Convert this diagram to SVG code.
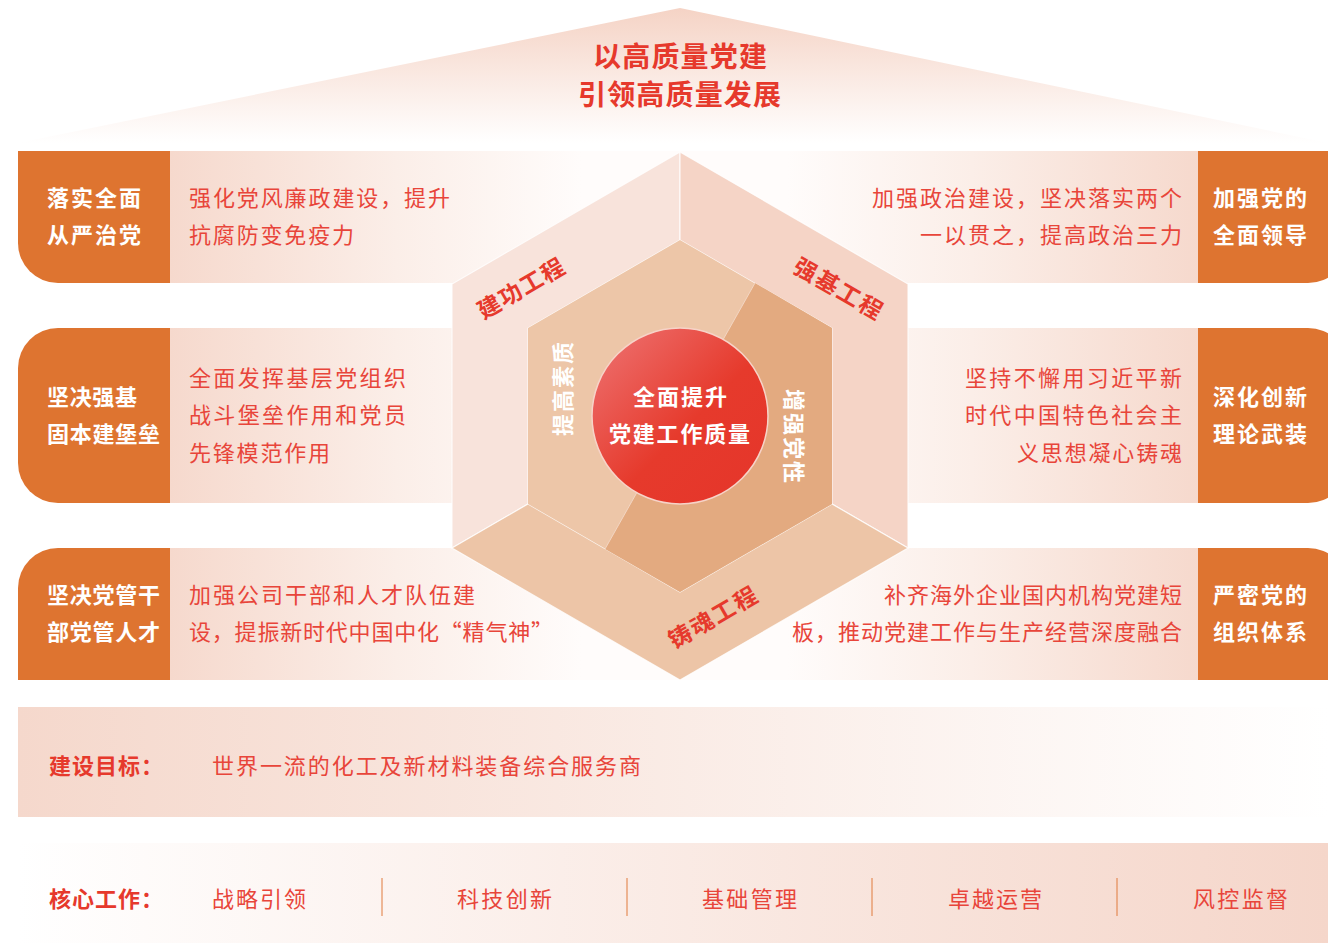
<svg xmlns="http://www.w3.org/2000/svg" width="1328" height="943" viewBox="0 0 1328 943">
<defs>
<linearGradient id="roof" x1="0" y1="8" x2="0" y2="143" gradientUnits="userSpaceOnUse">
<stop offset="0" stop-color="#f5d3c5"/><stop offset="1" stop-color="#ffffff"/>
</linearGradient>
<linearGradient id="row" x1="170" y1="0" x2="1198" y2="0" gradientUnits="userSpaceOnUse">
<stop offset="0" stop-color="#f6d9cd"/><stop offset="0.22" stop-color="#fbeee8"/><stop offset="0.4" stop-color="#fffcfb"/><stop offset="0.6" stop-color="#fffcfb"/><stop offset="0.78" stop-color="#fbeee8"/><stop offset="1" stop-color="#f6d9cd"/>
</linearGradient>
<linearGradient id="bar1" x1="18" y1="0" x2="1328" y2="0" gradientUnits="userSpaceOnUse">
<stop offset="0" stop-color="#f5d8cc"/><stop offset="1" stop-color="#ffffff"/>
</linearGradient>
<linearGradient id="bar2" x1="18" y1="0" x2="1328" y2="0" gradientUnits="userSpaceOnUse">
<stop offset="0" stop-color="#ffffff"/><stop offset="1" stop-color="#f5d6ca"/>
</linearGradient>
<linearGradient id="circ" x1="0" y1="0" x2="1" y2="1">
<stop offset="0" stop-color="#ee7575"/><stop offset="0.55" stop-color="#e63a2c"/><stop offset="1" stop-color="#e5352a"/>
</linearGradient>
<style>
.lab{font-family:"Noto Sans CJK SC","Noto Sans",sans-serif;font-size:22px;font-weight:bold;fill:#ffffff}
.desc{font-family:"Noto Sans CJK SC","Noto Sans",sans-serif;font-size:22px;fill:#e8453a}
.red{font-family:"Noto Sans CJK SC","Noto Sans",sans-serif;fill:#e6392c;font-weight:bold}
.box{fill:#de7430}
.face{stroke:#ffffff;stroke-width:1.2;stroke-opacity:0.8}
.sep{stroke:#e07a3c;stroke-width:1}
</style>
</defs>
<g id="roof-group">
<polygon points="680,8 18,143 1328,143" fill="url(#roof)"/>
<text class="red" font-size="28" x="593" y="55" dominant-baseline="central" textLength="174" lengthAdjust="spacing">以高质量党建</text>
<text class="red" font-size="28" x="578" y="93" dominant-baseline="central" textLength="203" lengthAdjust="spacing">引领高质量发展</text>
</g>
<g id="panels">
<rect x="170" y="151" width="1028" height="132" fill="url(#row)"/>
<rect x="170" y="328" width="1028" height="175" fill="url(#row)"/>
<rect x="170" y="548" width="1028" height="132" fill="url(#row)"/>
</g>
<g id="left1">
<path class="box" d="M18,151 H170 V283 H58 A40,40 0 0 1 18,243 Z"/>
<text class="lab" x="47" y="196" dominant-baseline="central" textLength="94" lengthAdjust="spacing">落实全面</text>
<text class="lab" x="47" y="233" dominant-baseline="central" textLength="94" lengthAdjust="spacing">从严治党</text>
<text class="desc" x="189" y="196" dominant-baseline="central" textLength="261" lengthAdjust="spacing">强化党风廉政建设，提升</text>
<text class="desc" x="189" y="233" dominant-baseline="central" textLength="165" lengthAdjust="spacing">抗腐防变免疫力</text>
</g>
<g id="left2">
<path class="box" d="M58,328 H170 V503 H58 A40,40 0 0 1 18,463 V368 A40,40 0 0 1 58,328 Z"/>
<text class="lab" x="47" y="395" dominant-baseline="central" textLength="90" lengthAdjust="spacing">坚决强基</text>
<text class="lab" x="47" y="432" dominant-baseline="central" textLength="113" lengthAdjust="spacing">固本建堡垒</text>
<text class="desc" x="189" y="376" dominant-baseline="central" textLength="217" lengthAdjust="spacing">全面发挥基层党组织</text>
<text class="desc" x="189" y="413" dominant-baseline="central" textLength="217" lengthAdjust="spacing">战斗堡垒作用和党员</text>
<text class="desc" x="189" y="451" dominant-baseline="central" textLength="141" lengthAdjust="spacing">先锋模范作用</text>
</g>
<g id="left3">
<path class="box" d="M58,548 H170 V680 H18 V588 A40,40 0 0 1 58,548 Z"/>
<text class="lab" x="47" y="593" dominant-baseline="central" textLength="113" lengthAdjust="spacing">坚决党管干</text>
<text class="lab" x="47" y="630" dominant-baseline="central" textLength="113" lengthAdjust="spacing">部党管人才</text>
<text class="desc" x="189" y="593" dominant-baseline="central" textLength="286" lengthAdjust="spacing">加强公司干部和人才队伍建</text>
<text class="desc" x="189" y="630" dominant-baseline="central" textLength="364" lengthAdjust="spacing">设，提振新时代中国中化“精气神”</text>
</g>
<g id="right1">
<path class="box" d="M1198,151 H1348 V243 A40,40 0 0 1 1308,283 H1198 Z"/>
<text class="lab" x="1213" y="196" dominant-baseline="central" textLength="94" lengthAdjust="spacing">加强党的</text>
<text class="lab" x="1213" y="233" dominant-baseline="central" textLength="94" lengthAdjust="spacing">全面领导</text>
<text class="desc" x="872" y="196" dominant-baseline="central" textLength="310" lengthAdjust="spacing">加强政治建设，坚决落实两个</text>
<text class="desc" x="920" y="233" dominant-baseline="central" textLength="262" lengthAdjust="spacing">一以贯之，提高政治三力</text>
</g>
<g id="right2">
<path class="box" d="M1198,328 H1308 A40,40 0 0 1 1348,368 V463 A40,40 0 0 1 1308,503 H1198 Z"/>
<text class="lab" x="1213" y="395" dominant-baseline="central" textLength="94" lengthAdjust="spacing">深化创新</text>
<text class="lab" x="1213" y="432" dominant-baseline="central" textLength="94" lengthAdjust="spacing">理论武装</text>
<text class="desc" x="965" y="376" dominant-baseline="central" textLength="217" lengthAdjust="spacing">坚持不懈用习近平新</text>
<text class="desc" x="965" y="413" dominant-baseline="central" textLength="217" lengthAdjust="spacing">时代中国特色社会主</text>
<text class="desc" x="1017" y="451" dominant-baseline="central" textLength="165" lengthAdjust="spacing">义思想凝心铸魂</text>
</g>
<g id="right3">
<path class="box" d="M1198,548 H1308 A40,40 0 0 1 1348,588 V680 H1198 Z"/>
<text class="lab" x="1213" y="593" dominant-baseline="central" textLength="94" lengthAdjust="spacing">严密党的</text>
<text class="lab" x="1213" y="630" dominant-baseline="central" textLength="94" lengthAdjust="spacing">组织体系</text>
<text class="desc" x="884" y="593" dominant-baseline="central" textLength="298" lengthAdjust="spacing">补齐海外企业国内机构党建短</text>
<text class="desc" x="792" y="630" dominant-baseline="central" textLength="390" lengthAdjust="spacing">板，推动党建工作与生产经营深度融合</text>
</g>
<g id="hexagon">
<polygon class="face" points="680,152 452,284 452,548 528,504 528,328 680,240" fill="#f8e3db"/>
<polygon class="face" points="680,152 908,284 908,548 832,504 832,328 680,240" fill="#f5d4c6"/>
<polygon class="face" points="452,548 680,680 908,548 832,504 680,592 528,504" fill="#edc5a7"/>
<polygon points="680,240 832,328 832,504 680,592 528,504 528,328" fill="#edc6a8"/>
<polygon points="755,283 832,328 832,504 680,592 605,549" fill="#e3aa80"/>
<line x1="755" y1="283" x2="605" y2="549" stroke="#f2d5c2" stroke-width="1"/>
<text class="red" font-size="23" transform="translate(520,287) rotate(-30)" x="-48" dominant-baseline="central" textLength="96" lengthAdjust="spacing">建功工程</text>
<text class="red" font-size="23" transform="translate(839,287) rotate(30)" x="-49" dominant-baseline="central" textLength="98" lengthAdjust="spacing">强基工程</text>
<text class="red" font-size="23" transform="translate(712,616) rotate(-30)" x="-49" dominant-baseline="central" textLength="98" lengthAdjust="spacing">铸魂工程</text>
<text class="lab" font-size="23" transform="translate(561,389) rotate(-90)" x="-47" dominant-baseline="central" textLength="94" lengthAdjust="spacing">提高素质</text>
<text class="lab" font-size="23" transform="translate(796,436) rotate(90)" x="-47" dominant-baseline="central" textLength="94" lengthAdjust="spacing">增强党性</text>
</g>
<g id="center">
<circle cx="680" cy="416" r="88" fill="url(#circ)" stroke="#f7d3c8" stroke-width="1.5"/>
<text class="lab" font-size="22" x="633" y="395" dominant-baseline="central" textLength="94" lengthAdjust="spacing">全面提升</text>
<text class="lab" font-size="22" x="609" y="432" dominant-baseline="central" textLength="141" lengthAdjust="spacing">党建工作质量</text>
</g>
<g id="goal">
<rect x="18" y="707" width="1310" height="110" fill="url(#bar1)"/>
<text class="red" font-size="22" x="49" y="764" dominant-baseline="central" letter-spacing="1">建设目标：</text>
<text class="desc" x="212" y="764" dominant-baseline="central" textLength="429" lengthAdjust="spacing">世界一流的化工及新材料装备综合服务商</text>
</g>
<g id="core">
<rect x="18" y="843" width="1310" height="100" fill="url(#bar2)"/>
<text class="red" font-size="22" x="49" y="897" dominant-baseline="central" letter-spacing="1">核心工作：</text>
<text class="desc" x="212" y="897" dominant-baseline="central" textLength="94" lengthAdjust="spacing">战略引领</text>
<text class="desc" x="457" y="897" dominant-baseline="central" textLength="95" lengthAdjust="spacing">科技创新</text>
<text class="desc" x="702" y="897" dominant-baseline="central" textLength="95" lengthAdjust="spacing">基础管理</text>
<text class="desc" x="948" y="897" dominant-baseline="central" textLength="94" lengthAdjust="spacing">卓越运营</text>
<text class="desc" x="1193" y="897" dominant-baseline="central" textLength="95" lengthAdjust="spacing">风控监督</text>
</g>
<g id="connectors">
<line class="sep" x1="382" y1="878" x2="382" y2="916"/>
<line class="sep" x1="627" y1="878" x2="627" y2="916"/>
<line class="sep" x1="872" y1="878" x2="872" y2="916"/>
<line class="sep" x1="1117" y1="878" x2="1117" y2="916"/>
</g>
</svg>
